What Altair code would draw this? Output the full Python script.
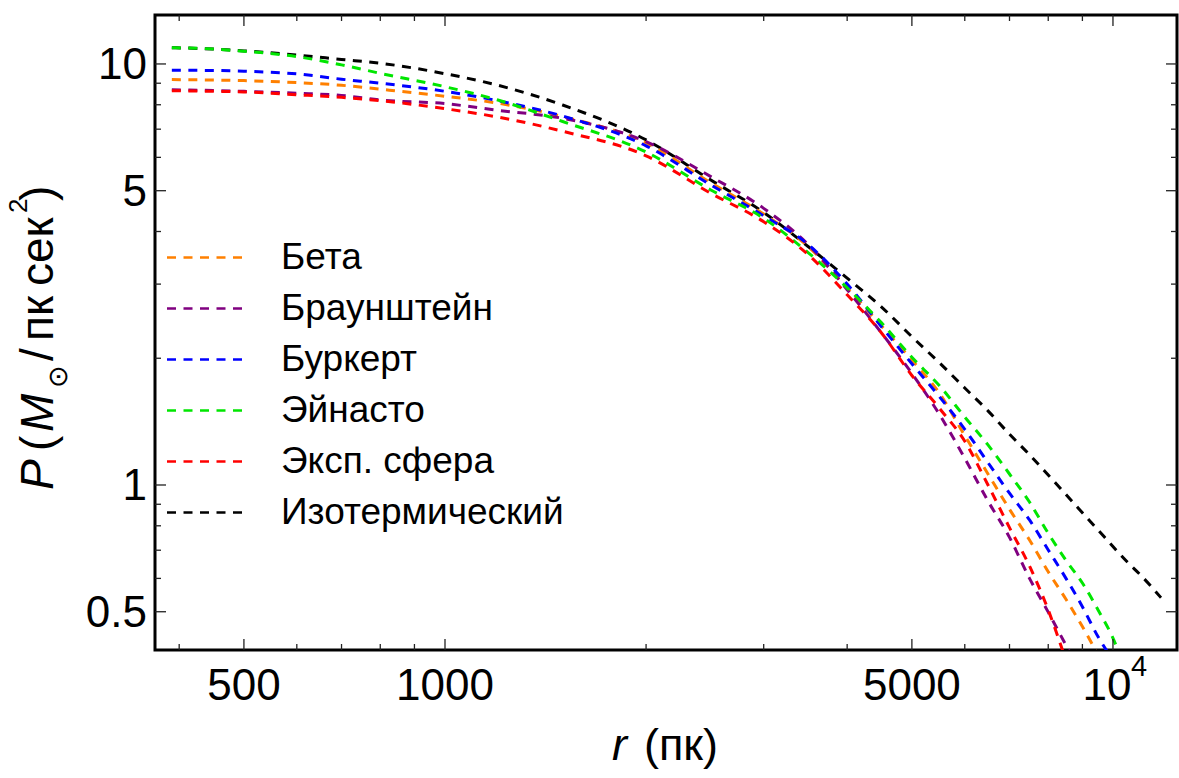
import altair as alt
import pandas as pd

# ---- data ----
r_grid = [390, 450, 500, 600, 700, 800, 1000, 1200, 1500, 2000, 2500, 3000, 3500,
          4000, 4500, 5000, 5500, 6000, 6500, 7000, 7500, 8000, 8500, 9000, 9500,
          10000, 10500, 11000, 11800]

p_iso = [10.93, 10.85, 10.74, 10.50, 10.25, 10.04, 9.48, 8.90, 7.99, 6.60, 5.30, 4.44,
         3.68, 3.10, 2.65, 2.25, 1.95, 1.70, 1.50, 1.32, 1.18, 1.056, 0.950, 0.859,
         0.782, 0.714, 0.657, 0.611, 0.540]
p_beta = [9.18, 9.16, 9.13, 9.03, 8.90, 8.71, 8.38, 8.07, 7.50, 6.49, 5.22, 4.40, 3.68,
          2.94, 2.39, 1.98, 1.65, 1.31, 1.062, 0.876, 0.740, 0.622, 0.536, 0.461, 0.395]
p_braun = [8.68, 8.65, 8.61, 8.52, 8.42, 8.21, 8.05, 7.76, 7.43, 6.54, 5.40, 4.54, 3.72,
           2.91, 2.30, 1.84, 1.47, 1.157, 0.916, 0.751, 0.600, 0.499, 0.417, 0.354]
p_burk = [9.66, 9.65, 9.61, 9.47, 9.20, 9.00, 8.61, 8.18, 7.52, 6.39, 5.16, 4.36, 3.72,
          3.00, 2.38, 1.94, 1.62, 1.356, 1.130, 0.956, 0.826, 0.701, 0.601, 0.514,
          0.436, 0.384]
p_einasto = [10.93, 10.85, 10.72, 10.41, 9.95, 9.50, 8.83, 8.21, 7.30, 6.18, 5.02, 4.30,
             3.56, 2.94, 2.43, 2.01, 1.72, 1.45, 1.245, 1.062, 0.911, 0.768, 0.663,
             0.585, 0.505, 0.433, 0.354]
p_exp = [8.64, 8.61, 8.58, 8.45, 8.33, 8.18, 7.83, 7.48, 6.92, 6.05, 4.93, 4.22, 3.52,
         2.83, 2.30, 1.82, 1.52, 1.27, 1.00, 0.792, 0.642, 0.505, 0.384]

names = ["Бета", "Браунштейн", "Буркерт", "Эйнасто", "Эксп. сфера", "Изотермический"]
colors = ["#FF8000", "#800080", "#0000FF", "#00E600", "#FF0000", "#000000"]
series = {
    "Изотермический": p_iso,
    "Бета": p_beta,
    "Браунштейн": p_braun,
    "Буркерт": p_burk,
    "Эйнасто": p_einasto,
    "Эксп. сфера": p_exp,
}
draw_order = ["Изотермический", "Бета", "Браунштейн", "Буркерт", "Эйнасто", "Эксп. сфера"]

x_major = [500, 1000, 5000]
x_major_labels = ["500", "1000", "5000"]
x_pow_tick = [10000]
x_pow_base = ["10"]
x_pow_exp = ["4"]
x_minor = [400, 600, 700, 800, 900, 2000, 3000, 4000, 6000, 7000, 8000, 9000]
y_major = [0.5, 1, 5, 10]
y_major_labels = ["0.5", "1", "5", "10"]
y_minor = [0.6, 0.7, 0.8, 0.9, 2, 3, 4, 6, 7, 8, 9]

x_domain = [368, 12470]
y_domain = [0.4056, 13.07]

W, H = 1022, 635
FONT = "Liberation Sans"

xscale = alt.Scale(type="log", domain=x_domain, nice=False)
yscale = alt.Scale(type="log", domain=y_domain, nice=False)
cscale = alt.Scale(domain=names, range=colors)

legend = alt.Legend(title=None, orient="none", legendX=31, legendY=224,
                    symbolType="M-5,0H5", symbolSize=225, symbolStrokeWidth=2.5,
                    symbolDash=[9, 7.5], labelFont=FONT, labelFontSize=37,
                    labelColor="black", labelOffset=58, labelLimit=500,
                    rowPadding=13, padding=0)

layers = []
first = True
for name in draw_order:
    vals = series[name]
    df = pd.DataFrame({"r": r_grid[:len(vals)], "P": vals, "model": name})
    layers.append(
        alt.Chart(df).mark_line(strokeDash=[9, 7.5], strokeWidth=3, clip=True,
                                interpolate="monotone").encode(
            x=alt.X("r:Q", scale=xscale, axis=None),
            y=alt.Y("P:Q", scale=yscale, axis=None),
            color=alt.Color("model:N", scale=cscale, legend=legend if first else None),
        )
    )
    first = False


def xticks(vals, length, top):
    df = pd.DataFrame({"v": vals})
    if top:
        yy, yy2 = alt.value(0), alt.value(length)
    else:
        yy, yy2 = alt.value(H), alt.value(H - length)
    return alt.Chart(df).mark_rule(color="#222", strokeWidth=1.3).encode(
        x=alt.X("v:Q", scale=xscale, axis=None), y=yy, y2=yy2)


def yticks(vals, length, right):
    df = pd.DataFrame({"v": vals})
    if right:
        xx, xx2 = alt.value(W), alt.value(W - length)
    else:
        xx, xx2 = alt.value(0), alt.value(length)
    return alt.Chart(df).mark_rule(color="#222", strokeWidth=1.3).encode(
        y=alt.Y("v:Q", scale=yscale, axis=None), x=xx, x2=xx2)


x_major_all = x_major + x_pow_tick
ticks = [
    xticks(x_major_all, 11, False), xticks(x_minor, 6, False),
    xticks(x_major_all, 11, True), xticks(x_minor, 6, True),
    yticks(y_major, 11, False), yticks(y_minor, 6, False),
    yticks(y_major, 11, True), yticks(y_minor, 6, True),
]

# tick labels (placed through the scales)
x_lab = alt.Chart(pd.DataFrame({"v": x_major, "t": x_major_labels})).mark_text(
    align="center", baseline="alphabetic", font=FONT, fontSize=44, color="black"
).encode(x=alt.X("v:Q", scale=xscale, axis=None), y=alt.value(H + 50), text="t:N")

x_pow_a = alt.Chart(pd.DataFrame({"v": x_pow_tick, "t": x_pow_base})).mark_text(
    align="center", baseline="alphabetic", font=FONT, fontSize=44, color="black", dx=-6
).encode(x=alt.X("v:Q", scale=xscale, axis=None), y=alt.value(H + 50), text="t:N")

x_pow_b = alt.Chart(pd.DataFrame({"v": x_pow_tick, "t": x_pow_exp})).mark_text(
    align="left", baseline="alphabetic", font=FONT, fontSize=29, color="black", dx=18
).encode(x=alt.X("v:Q", scale=xscale, axis=None), y=alt.value(H + 26), text="t:N")

y_lab = alt.Chart(pd.DataFrame({"v": y_major, "t": y_major_labels})).mark_text(
    align="right", baseline="alphabetic", font=FONT, fontSize=44, color="black", dy=15
).encode(y=alt.Y("v:Q", scale=yscale, axis=None), x=alt.value(-8), text="t:N")


def label(text, x, y, size=46, italic=False, angle=0):
    df = pd.DataFrame({"t": [text]})
    kw = dict(align="left", baseline="alphabetic", font=FONT, fontSize=size,
              color="black")
    if italic:
        kw["fontStyle"] = "italic"
    if angle:
        kw["angle"] = angle
    return alt.Chart(df).mark_text(**kw).encode(
        text="t:N", x=alt.value(x), y=alt.value(y))


titles = [
    # x axis title: r (пк)
    label("r", 457, 745, size=45, italic=True),
    label("(пк)", 489, 745, size=45),
    # y axis title: P (M⊙/пк сек²), rotated
    label("P", -102, 475, italic=True, angle=270),
    label("(", -102, 436, angle=270),
    label("M", -102, 417, italic=True, angle=270),
    label("⊙", -88, 373, size=27, angle=270),
    label("/", -102, 346, angle=270),
    label("пк", -102, 326, angle=270),
    label("сек", -102, 271, angle=270),
    label("2", -128, 198, size=26, angle=270),
    label(")", -102, 186, angle=270),
]

chart = alt.layer(*layers, *ticks, x_lab, x_pow_a, x_pow_b, y_lab, *titles).properties(
    width=W, height=H,
    padding={"left": 155, "top": 15, "right": 2, "bottom": 128},
    autosize=alt.AutoSizeParams(type="none"),
    background="white",
).configure_view(stroke="black", strokeWidth=3)

chart.save("out.html", embed_options={"renderer": "svg", "actions": False})
